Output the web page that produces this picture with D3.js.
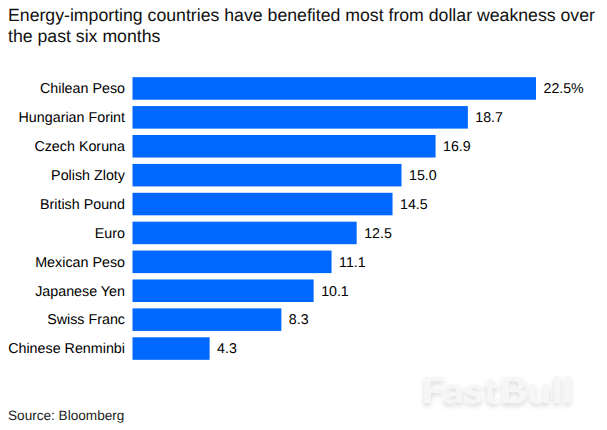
<!DOCTYPE html>
<html><head><meta charset="utf-8">
<script src="https://cdn.jsdelivr.net/npm/d3@7"></script>
<style>html,body{margin:0;padding:0;background:#fff}svg{display:block}text{font-family:"Liberation Sans",Arial,sans-serif;text-rendering:geometricPrecision}</style>
</head><body><svg id="c" width="607" height="430"></svg>
<script>
const categories = ["Chilean Peso","Hungarian Forint","Czech Koruna","Polish Zloty","British Pound","Euro","Mexican Peso","Japanese Yen","Swiss Franc","Chinese Renminbi"];
const values = [22.5,18.7,16.9,15.0,14.5,12.5,11.1,10.1,8.3,4.3];
const valueLabels = ["22.5%","18.7","16.9","15.0","14.5","12.5","11.1","10.1","8.3","4.3"];
const titleLines = ["Energy-importing countries have benefited most from dollar weakness over","the past six months"];
const sourceText = "Source: Bloomberg";
const watermark = "FastBull";

const svg = d3.select("#c");
const defs = svg.append("defs");
const f = defs.append("filter").attr("id","ws").attr("x","-10%").attr("y","-30%").attr("width","120%").attr("height","170%");
f.append("feDropShadow").attr("dx",0).attr("dy",3).attr("stdDeviation",2.5).attr("flood-color","#000").attr("flood-opacity",0.16);

const x = d3.scaleLinear().domain([0,22.5]).range([132.5,536]);
const y = d3.scaleBand().domain(categories).range([74,363]).paddingInner(0.22).paddingOuter(0.11);

svg.selectAll("text.title").data(titleLines).join("text").attr("class","title")
  .attr("x",8).attr("y",(d,i)=>21+i*20.7).attr("font-size",17.7).attr("fill","#111").text(d=>d);

svg.selectAll("rect.bar").data(values).join("rect").attr("class","bar")
  .attr("x",x(0)).attr("y",(d,i)=>y(categories[i]))
  .attr("width",d=>x(d)-x(0)).attr("height",y.bandwidth()).attr("fill","#0068ff");

svg.selectAll("text.cat").data(categories).join("text").attr("class","cat")
  .attr("x",125).attr("y",d=>y(d)+y.bandwidth()/2+4.8).attr("text-anchor","end")
  .attr("font-size",14.3).attr("fill","#000").text(d=>d);

svg.selectAll("text.val").data(values).join("text").attr("class","val")
  .attr("x",d=>x(d)+7.5).attr("y",(d,i)=>y(categories[i])+y.bandwidth()/2+4.8)
  .attr("font-size",14.2).attr("fill","#000").text((d,i)=>valueLabels[i]);

svg.append("text").attr("x",8).attr("y",420).attr("font-size",13.6).attr("fill","#222").text(sourceText);

svg.append("text").attr("x",421).attr("y",403).attr("font-size",36).attr("font-weight",700)
  .style("font-family","Lato, 'Open Sans', sans-serif").attr("textLength",152).attr("lengthAdjust","spacingAndGlyphs")
  .attr("fill","#f6f6f6").attr("filter","url(#ws)").text(watermark);
</script></body></html>
